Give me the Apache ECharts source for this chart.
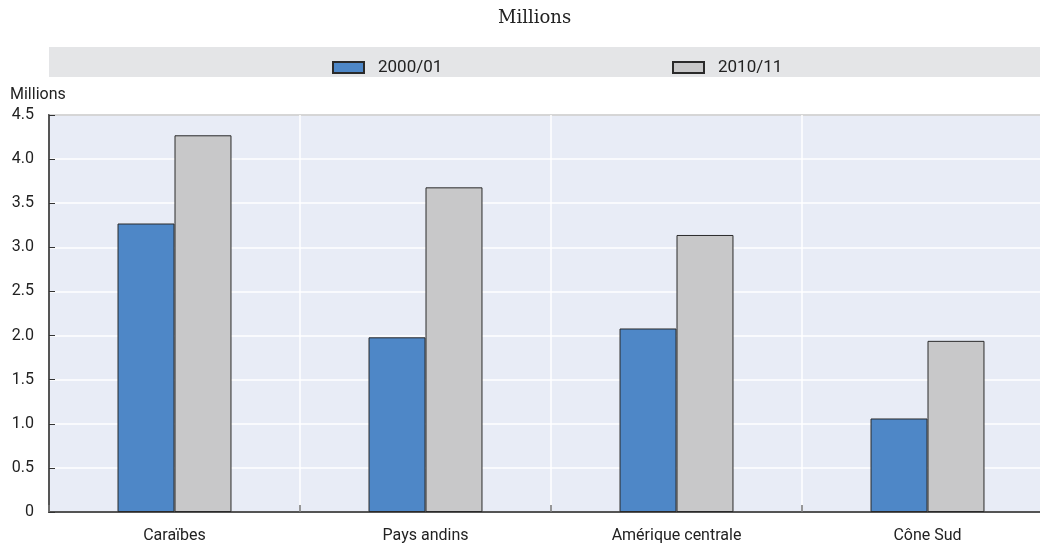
<!DOCTYPE html>
<html><head><meta charset="utf-8">
<script src="https://cdn.jsdelivr.net/npm/echarts@6/dist/echarts.min.js"></script>
<style>html,body{margin:0;padding:0;background:#fff}#c{width:1040px;height:544px}</style>
</head><body><div id="c"></div>
<script>
const categories = ['Caraïbes', 'Pays andins', 'Amérique centrale', 'Cône Sud'];
const series2000 = [3.27, 1.98, 2.08, 1.06];
const series2010 = [4.27, 3.68, 3.14, 1.94];
const seriesNames = ['2000/01', '2010/11'];
const yTicks = { min: 0, max: 4.5, interval: 0.5 };

const FONT = "'Roboto', sans-serif";
const chart = echarts.init(document.getElementById('c'), null, {renderer: 'canvas'});
chart.setOption({
  animation: false,
  title: {
    text: 'Millions', left: 493, top: 4,
    textStyle: {fontFamily: "'DejaVu Serif', 'Liberation Serif', serif", fontSize: 18, fontWeight: 'normal', color: '#222'}
  },
  graphic: [
    {type: 'rect', left: 49, top: 47, shape: {width: 1000, height: 30}, style: {fill: '#e4e5e7'}, z: -1},
    {type: 'text', left: 10, top: 87, style: {text: 'Millions', font: "16px Roboto, sans-serif", fill: '#222'}}
  ],
  legend: [
    {data: [seriesNames[0]], left: 327, top: 54, itemWidth: 31, itemHeight: 11, icon: 'rect',
     textStyle: {fontFamily: FONT, fontSize: 17, color: '#222', padding: [0, 0, 0, 9]}},
    {data: [seriesNames[1]], left: 667, top: 54, itemWidth: 31, itemHeight: 11, icon: 'rect',
     textStyle: {fontFamily: FONT, fontSize: 17, color: '#222', padding: [0, 0, 0, 9]}}
  ],
  grid: {left: 49, top: 115, width: 1004, height: 397, show: true, outerBoundsMode: 'none',
         backgroundColor: '#e8ecf6', borderColor: '#2a2a2a', borderWidth: 1.5},
  xAxis: {
    type: 'category', data: categories,
    axisLine: {show: true, lineStyle: {color: '#2a2a2a', width: 1.5}},
    axisTick: {show: true, inside: true, length: 7, lineStyle: {color: '#777', width: 1.5}},
    splitLine: {show: true, lineStyle: {color: '#ffffff', width: 1.5}},
    axisLabel: {fontFamily: FONT, fontSize: 16, color: '#222', margin: 16}
  },
  yAxis: {
    type: 'value', min: yTicks.min, max: yTicks.max, interval: yTicks.interval,
    axisLine: {show: true, lineStyle: {color: '#2a2a2a', width: 1.5}},
    axisTick: {show: true, inside: true, length: 6, lineStyle: {color: '#333', width: 1}},
    splitLine: {show: true, lineStyle: {color: '#ffffff', width: 1.5}},
    axisLabel: {fontFamily: FONT, fontSize: 16, color: '#222', margin: 15,
      formatter: v => v === 0 ? '0' : v.toFixed(1)}
  },
  series: [
    {name: seriesNames[0], type: 'bar', data: series2000, barGap: '0%', barCategoryGap: '54.6%',
     itemStyle: {color: '#4e87c7', borderColor: '#2a2a2a', borderWidth: 1}},
    {name: seriesNames[1], type: 'bar', data: series2010, barGap: '0%', barCategoryGap: '54.6%',
     itemStyle: {color: '#c8c8c9', borderColor: '#2a2a2a', borderWidth: 1}}
  ]
});
</script></body></html>
